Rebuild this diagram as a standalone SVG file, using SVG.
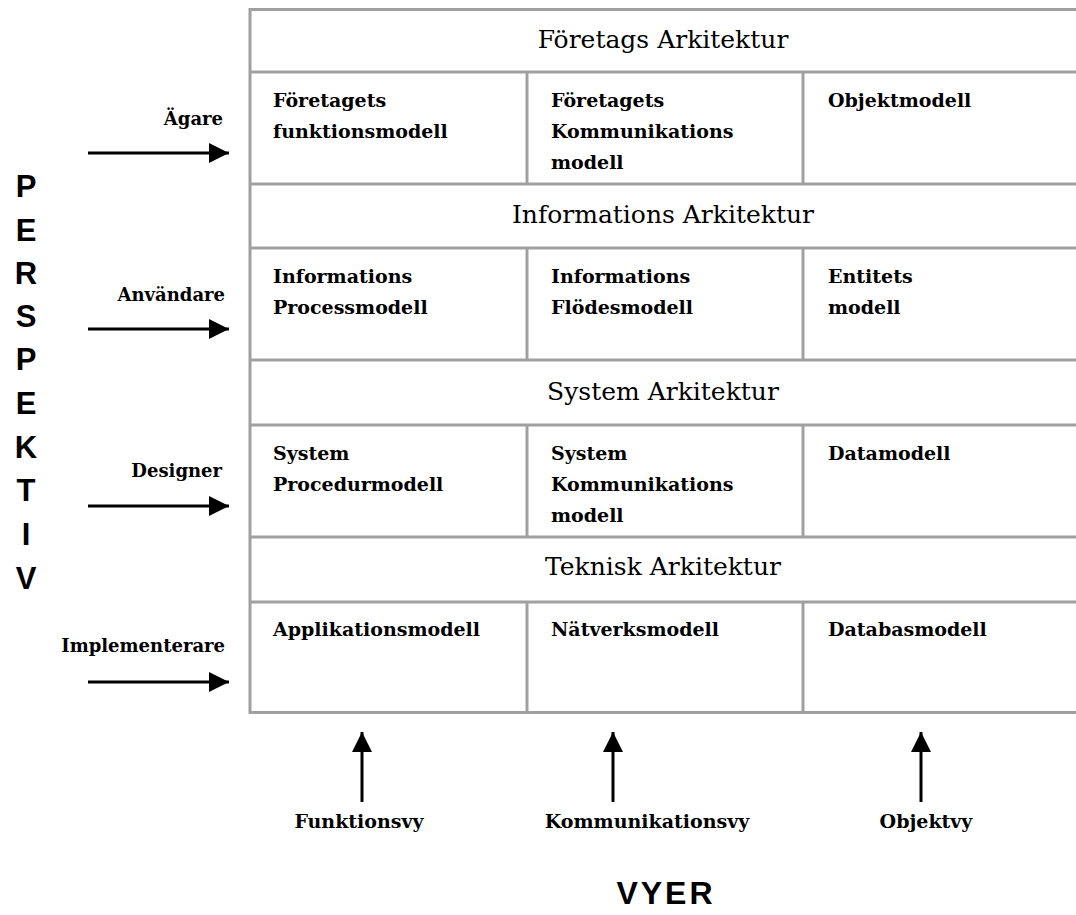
<svg xmlns="http://www.w3.org/2000/svg" width="1076" height="915" viewBox="0 0 1076 915">
<defs>
<style>
.g{stroke:#a0a0a0;stroke-width:3;fill:none}
.t{font-family:"DejaVu Serif","Liberation Serif",serif;font-size:19px;font-weight:bold;fill:#000}
.l{font-size:18px}
.h{font-family:"DejaVu Serif","Liberation Serif",serif;font-size:25px;fill:#000;text-anchor:middle}
.r{text-anchor:end}
.m{text-anchor:middle}
.b{font-family:"Liberation Sans",Arial,sans-serif;font-weight:bold;font-size:31px;fill:#000;text-anchor:middle}
.a{stroke:#000;stroke-width:3;fill:none}
</style>
<marker id="ah" viewBox="0 0 20 20" refX="20" refY="10" markerWidth="20" markerHeight="20" markerUnits="userSpaceOnUse" orient="auto">
<path d="M0,0 L20,10 L0,20 Z" fill="#000"/>
</marker>
</defs>
<rect width="1076" height="915" fill="#fff"/>
<g id="grid">
<rect class="g" x="250" y="9.5" width="840" height="703"/>
<line class="g" x1="250" y1="72" x2="1076" y2="72"/>
<line class="g" x1="250" y1="184" x2="1076" y2="184"/>
<line class="g" x1="250" y1="248" x2="1076" y2="248"/>
<line class="g" x1="250" y1="360" x2="1076" y2="360"/>
<line class="g" x1="250" y1="425" x2="1076" y2="425"/>
<line class="g" x1="250" y1="537" x2="1076" y2="537"/>
<line class="g" x1="250" y1="602" x2="1076" y2="602"/>
<line class="g" x1="527" y1="72" x2="527" y2="184"/>
<line class="g" x1="803" y1="72" x2="803" y2="184"/>
<line class="g" x1="527" y1="248" x2="527" y2="360"/>
<line class="g" x1="803" y1="248" x2="803" y2="360"/>
<line class="g" x1="527" y1="425" x2="527" y2="537"/>
<line class="g" x1="803" y1="425" x2="803" y2="537"/>
<line class="g" x1="527" y1="602" x2="527" y2="713"/>
<line class="g" x1="803" y1="602" x2="803" y2="713"/>
</g>
<g id="headers">
<text class="h" x="663" y="48">Företags Arkitektur</text>
<text class="h" x="663" y="223">Informations Arkitektur</text>
<text class="h" x="663" y="400">System Arkitektur</text>
<text class="h" x="663" y="575">Teknisk Arkitektur</text>
</g>
<g id="cell-1-1"><text class="t" x="273" y="107">Företagets</text><text class="t" x="273" y="138">funktionsmodell</text></g>
<g id="cell-1-2"><text class="t" x="551" y="107">Företagets</text><text class="t" x="551" y="138">Kommunikations</text><text class="t" x="551" y="169">modell</text></g>
<g id="cell-1-3"><text class="t" x="828" y="107">Objektmodell</text></g>
<g id="cell-2-1"><text class="t" x="273" y="283">Informations</text><text class="t" x="273" y="314">Processmodell</text></g>
<g id="cell-2-2"><text class="t" x="551" y="283">Informations</text><text class="t" x="551" y="314">Flödesmodell</text></g>
<g id="cell-2-3"><text class="t" x="828" y="283">Entitets</text><text class="t" x="828" y="314">modell</text></g>
<g id="cell-3-1"><text class="t" x="273" y="460">System</text><text class="t" x="273" y="491">Procedurmodell</text></g>
<g id="cell-3-2"><text class="t" x="551" y="460">System</text><text class="t" x="551" y="491">Kommunikations</text><text class="t" x="551" y="522">modell</text></g>
<g id="cell-3-3"><text class="t" x="828" y="460">Datamodell</text></g>
<g id="cell-4-1"><text class="t" x="273" y="636">Applikationsmodell</text></g>
<g id="cell-4-2"><text class="t" x="551" y="636">Nätverksmodell</text></g>
<g id="cell-4-3"><text class="t" x="828" y="636">Databasmodell</text></g>
<g id="perspectives">
<text class="t l r" x="223" y="125">Ägare</text>
<text class="t l r" x="225" y="301">Användare</text>
<text class="t l r" x="222" y="477">Designer</text>
<text class="t l r" x="225" y="652">Implementerare</text>
</g>
<g id="views">
<text class="t m" x="359" y="828">Funktionsvy</text>
<text class="t m" x="647" y="828">Kommunikationsvy</text>
<text class="t m" x="926" y="828">Objektvy</text>
</g>
<g id="connectors">
<line class="a" x1="88" y1="153" x2="229" y2="153" marker-end="url(#ah)"/>
<line class="a" x1="88" y1="329" x2="229" y2="329" marker-end="url(#ah)"/>
<line class="a" x1="88" y1="506" x2="229" y2="506" marker-end="url(#ah)"/>
<line class="a" x1="88" y1="682" x2="229" y2="682" marker-end="url(#ah)"/>
<line class="a" x1="362" y1="802" x2="362" y2="732" marker-end="url(#ah)"/>
<line class="a" x1="613" y1="802" x2="613" y2="732" marker-end="url(#ah)"/>
<line class="a" x1="921" y1="802" x2="921" y2="732" marker-end="url(#ah)"/>
</g>
<g id="perspektiv">
<text class="b" x="26" y="197">P</text>
<text class="b" x="26" y="241">E</text>
<text class="b" x="26" y="284">R</text>
<text class="b" x="26" y="327">S</text>
<text class="b" x="26" y="370">P</text>
<text class="b" x="26" y="414">E</text>
<text class="b" x="26" y="458">K</text>
<text class="b" x="26" y="501">T</text>
<text class="b" x="26" y="545">I</text>
<text class="b" x="26" y="589">V</text>
</g>
<g id="vyer">
<text class="b" x="666" y="904" style="font-size:32px;letter-spacing:3px">VYER</text>
</g>
</svg>
